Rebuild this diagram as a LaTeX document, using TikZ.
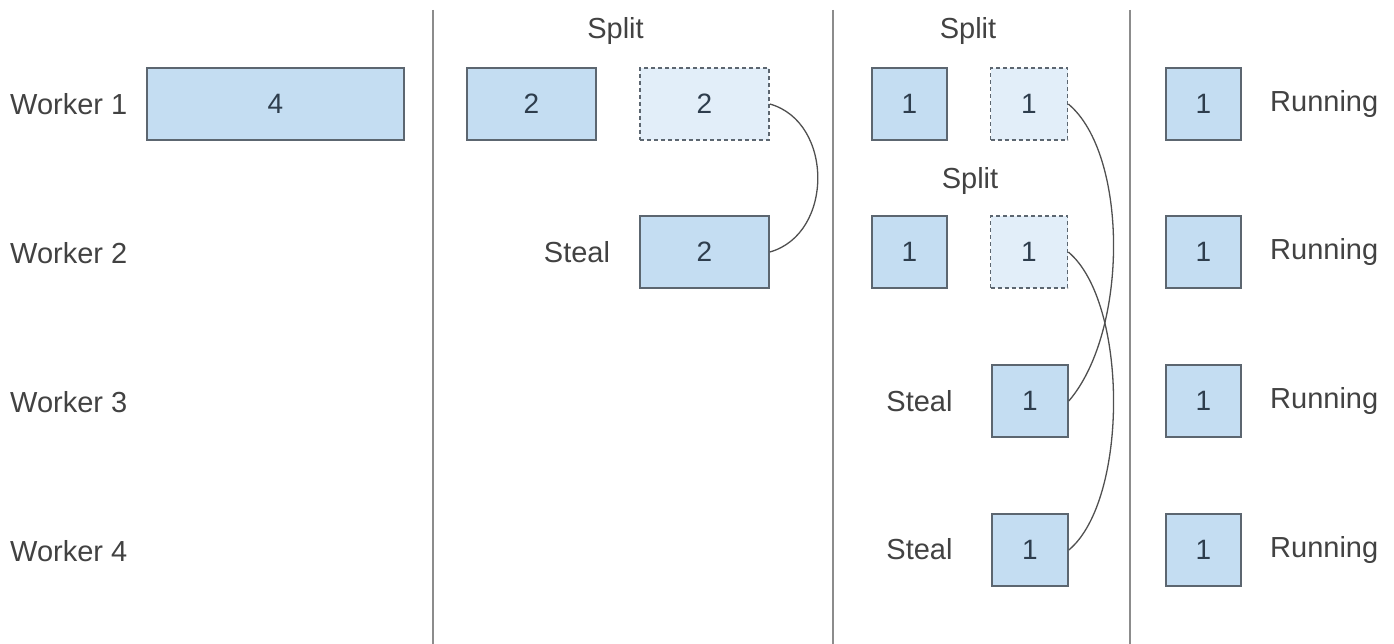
\documentclass[tikz,border=0pt]{standalone}
\usepackage{fontspec}
\setmainfont{Liberation Sans}
\definecolor{boxfill}{HTML}{C4DDF2}
\definecolor{dashfill}{HTML}{E2EEF9}
\definecolor{boxdraw}{HTML}{5C6670}
\definecolor{numcol}{HTML}{2E3D4D}
\definecolor{labcol}{HTML}{424242}
\definecolor{sepcol}{HTML}{8C8C8C}
\definecolor{curvecol}{HTML}{505050}
\begin{document}
\begin{tikzpicture}[x=1pt,y=-1pt,
  every node/.style={font=\fontsize{29}{33}\selectfont},
  task/.style={draw=boxdraw, fill=boxfill, line width=1.6pt, minimum height=72pt, inner sep=0pt, text=numcol, font=\fontsize{28}{32}\selectfont},
  ghost/.style={task, fill=dashfill, dashed, dash pattern=on 4pt off 3pt},
  lab/.style={text=labcol, inner sep=0pt},
  sep/.style={draw=sepcol, line width=1.8pt},
  link/.style={draw=curvecol, line width=1.3pt}]
\useasboundingbox (0,0) rectangle (1394,644);
% separators
\coordinate (s1t) at (433,10); \coordinate (s1b) at (433,644);
\coordinate (s2t) at (833,10); \coordinate (s2b) at (833,644);
\coordinate (s3t) at (1130,10); \coordinate (s3b) at (1130,644);
\draw[sep] (s1t) -- (s1b);
\draw[sep] (s2t) -- (s2b);
\draw[sep] (s3t) -- (s3b);
% worker labels
\node[lab, anchor=west] (w1) at (10,104) {Worker 1};
\node[lab, anchor=west] (w2) at (10,253) {Worker 2};
\node[lab, anchor=west] (w3) at (10,402) {Worker 3};
\node[lab, anchor=west] (w4) at (10,551) {Worker 4};
% column 1
\node[task, minimum width=257pt] (b4) at (275.5,104) {4};
% column 2
\node[lab] (split1) at (615.5,31) {Split};
\node[task, minimum width=129pt] (c2a) at (531.5,104) {2};
\node[ghost, minimum width=129pt] (c2b) at (704.5,104) {2};
\node[task, minimum width=129pt] (c2s) at (704.5,252) {2};
\node[lab] (steal1) at (577,252) {Steal};
% column 3
\node[lab] (split2) at (968,31) {Split};
\node[lab] (split3) at (970,181) {Split};
\node[task, minimum width=75pt] (c3a1) at (909.5,104) {1};
\node[ghost, minimum width=77pt] (c3b1) at (1029,104) {1};
\node[task, minimum width=75pt] (c3a2) at (909.5,252) {1};
\node[ghost, minimum width=77pt] (c3b2) at (1029,252) {1};
\node[task, minimum width=76pt] (c3s3) at (1030,401) {1};
\node[task, minimum width=76pt] (c3s4) at (1030,550) {1};
\node[lab] (steal2) at (919.5,401) {Steal};
\node[lab] (steal3) at (919.5,549) {Steal};
% column 4
\foreach \y/\n in {104/1,252/2,401/3,550/4}{
  \node[task, minimum width=75pt] (r\n) at (1203.5,\y) {1};
  \node[lab, anchor=west] (run\n) at (1270,\y) {Running};
}
% steal links
\draw[link] (c2b.east) .. controls +(64,18) and +(64,-18) .. (c2s.east);
\draw[link] (c3b1.east) .. controls +(60,50) and +(60,-70) .. (c3s3.east);
\draw[link] (c3b2.east) .. controls +(60,50) and +(60,-50) .. (c3s4.east);
\end{tikzpicture}
\end{document}
